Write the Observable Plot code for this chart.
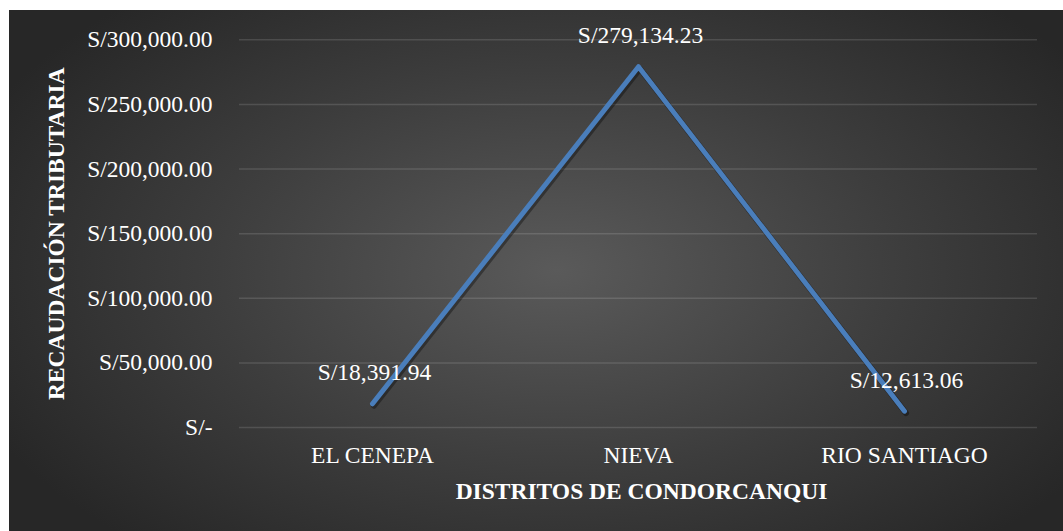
<!DOCTYPE html>
<html>
<head>
<meta charset="utf-8">
<script src="https://cdn.jsdelivr.net/npm/d3@7"></script>
<script src="https://cdn.jsdelivr.net/npm/@observablehq/plot@0.6"></script>
<style>
  html, body { margin: 0; padding: 0; background: #ffffff; }
  #chart { position: absolute; left: 9px; top: 10px; width: 1054px; height: 521px; }
  #chart svg { display: block; }
  #chart svg, #chart svg text, #chart svg g { font-family: "Liberation Serif", "Times New Roman", serif !important; }
</style>
</head>
<body>
<div id="chart"></div>
<script>
const districts = ["EL CENEPA", "NIEVA", "RIO SANTIAGO"];
const revenue = [18391.94, 279134.23, 12613.06];
const yTicks = [0, 50000, 100000, 150000, 200000, 250000, 300000];
const xTitle = "DISTRITOS DE CONDORCANQUI";
const yTitle = "RECAUDACIÓN TRIBUTARIA";

const data = districts.map((d, i) => ({district: d, value: revenue[i]}));
const money = v => v === 0 ? "S/-" : "S/" + d3.format(",.2f")(v);
const FS = 23.5;

const chart = Plot.plot({
  width: 1054,
  height: 521,
  marginLeft: 230,
  marginRight: 26,
  marginTop: 29.3,
  marginBottom: 104,
  style: {
    background: "radial-gradient(ellipse 60% 70% at 52% 50%, #5a5a5a 0%, #3d3d3d 55%, #272727 100%)",
    color: "#ffffff",
    fontFamily: "Liberation Serif",
    fontSize: FS + "px",
    overflow: "visible"
  },
  x: {type: "point", domain: districts, padding: 0.5, label: null},
  y: {domain: [0, 300000], label: null},
  marks: [
    Plot.ruleY(yTicks, {stroke: "#ffffff", strokeOpacity: 0.13, strokeWidth: 1.5}),
    Plot.axisY({ticks: yTicks, tickSize: 0, tickPadding: 27, tickFormat: money, fontSize: FS, fill: "#ffffff", label: null}),
    Plot.axisX({tickSize: 0, tickPadding: 19, fontSize: FS, fill: "#ffffff", label: null}),
    Plot.line(data, {x: "district", y: "value", stroke: "#000000", strokeOpacity: 0.35, strokeWidth: 6, dx: 1.5, dy: 2, strokeLinecap: "round", strokeLinejoin: "round"}),
    Plot.line(data, {x: "district", y: "value", stroke: "#4a7ebb", strokeWidth: 5, strokeLinecap: "round", strokeLinejoin: "round"}),
    Plot.text(data, {x: "district", y: "value", text: d => money(d.value), dy: -23.5, dx: 2, lineAnchor: "bottom", fill: "#ffffff", fontSize: FS}),
    Plot.text([xTitle], {frameAnchor: "bottom", dx: 3, dy: 71.3, textAnchor: "middle", lineAnchor: "bottom", fill: "#ffffff", fontSize: FS, fontWeight: "bold"}),
    Plot.text([yTitle], {frameAnchor: "left", dx: -176, rotate: -90, textAnchor: "middle", lineAnchor: "bottom", fill: "#ffffff", fontSize: FS, fontWeight: "bold"})
  ]
});
document.getElementById("chart").appendChild(chart);
</script>
</body>
</html>
